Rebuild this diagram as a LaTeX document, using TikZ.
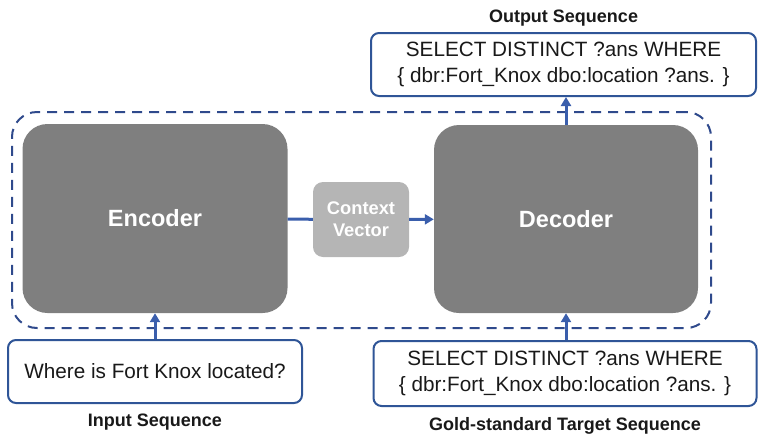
\documentclass[tikz,border=0pt]{standalone}
\usepackage{fontspec}
\setmainfont{Liberation Sans}
\usetikzlibrary{positioning,arrows.meta}

\definecolor{frameblue}{RGB}{47,74,140}
\definecolor{boxblue}{RGB}{47,85,151}
\definecolor{arrowblue}{RGB}{58,94,172}
\definecolor{darkgrey}{RGB}{127,127,127}
\definecolor{lightgrey}{RGB}{181,181,181}

\begin{document}
\begin{tikzpicture}[
        x=1pt, y=1pt,
        blockNode/.style={rectangle, rounded corners=25pt, fill=darkgrey, text=white,
            font=\fontsize{23.5}{28}\selectfont\bfseries, inner sep=0pt},
        vectorNode/.style={rectangle, rounded corners=10pt, fill=lightgrey, text=white, align=center,
            font=\fontsize{18.3}{22}\selectfont\bfseries, inner sep=0pt},
        seqNode/.style={rectangle, rounded corners=8pt, draw=boxblue, line width=2pt, fill=white,
            text=black!90, align=center, font=\fontsize{20.7}{25.5}\selectfont, inner sep=0pt},
        titleNode/.style={font=\fontsize{18}{22}\selectfont\bfseries, text=black!90, inner sep=0pt},
        flow/.style={draw=arrowblue, line width=3pt, -{Triangle[length=9pt,width=10pt]}}
    ]
        \useasboundingbox (0,0) rectangle (759,-434);

        % Dashed frame round the model
        \node[draw=frameblue, line width=2pt, dash pattern=on 10pt off 7pt, rounded corners=25pt,
            minimum width=699pt, minimum height=216pt, inner sep=0pt] (frame) at (361.5,-220) {};

        % Encoder, context vector and decoder
        \node[blockNode, minimum width=265pt, minimum height=189pt] (enc) at (155,-218.5) {Encoder};
        \node[blockNode, minimum width=264pt, minimum height=188pt] (dec) at (566,-219) {Decoder};
        \node[vectorNode, minimum width=96pt, minimum height=75pt] (ctx) at (361,-219.5) {Context\\Vector};

        % Sequences
        \node[seqNode, minimum width=294pt, minimum height=63pt] (inp) at (155,-371.5) {Where is Fort Knox located?};
        \node[seqNode, minimum width=385pt, minimum height=63pt] (out) at (563.5,-64.5)
            {SELECT DISTINCT ?ans WHERE\\\{ dbr:Fort\_Knox dbo:location ?ans. \}};
        \node[seqNode, minimum width=383pt, minimum height=65pt] (gold) at (565,-373.5)
            {SELECT DISTINCT ?ans WHERE\\\{ dbr:Fort\_Knox dbo:location ?ans. \}};

        % Titles
        \node[titleNode, below=10pt of inp] (inpTitle) {Input Sequence};
        \node[titleNode, above=6pt of out] (outTitle) {Output Sequence};
        \node[titleNode, below=10pt of gold] (goldTitle) {Gold-standard Target Sequence};

        % Edges
        \draw[draw=arrowblue, line width=3pt] (enc) -- (ctx);
        \draw[flow] (ctx) -- (dec);
        \draw[flow] (inp) -- (enc);
        \draw[flow] (gold.north -| dec.south) -- (dec.south);
        \draw[flow] (dec.north) -- (dec.north |- out.south);
    \end{tikzpicture}
\end{document}
